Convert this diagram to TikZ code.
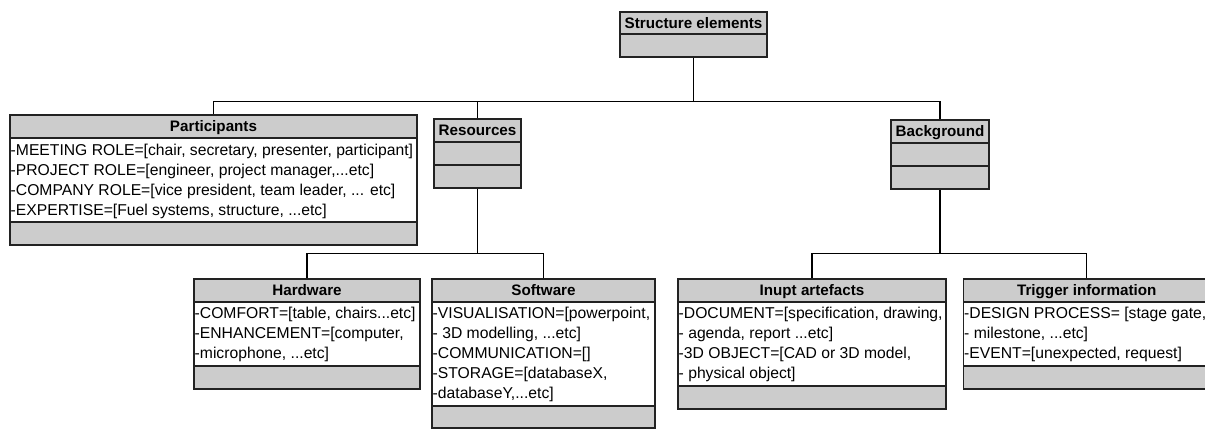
\documentclass[tikz,border=0pt]{standalone}
\usepackage{fontspec}
\setmainfont{Liberation Sans}
\usetikzlibrary{fit}
\definecolor{boxgray}{HTML}{CCCCCC}
\definecolor{edgecol}{HTML}{222222}
\tikzset{
  txt/.style={font=\fontsize{15.7}{20}\selectfont, inner sep=0pt, anchor=base west},
  ttl/.style={font=\fontsize{15.2}{18}\selectfont\bfseries, inner sep=0pt, anchor=base},
  frame/.style={draw=edgecol, line width=1.3pt, inner sep=0pt},
  sepline/.style={draw=edgecol, line width=1.2pt},
  conn/.style={draw=black, line width=1.2pt},
}
% \umlbox{name}{left}{right}{top}{hdiv}{tdiv}{bottom}{title}{middle colour}
\newcommand\umlbox[9]{%
  \fill[boxgray] (#2,#4) rectangle (#3,#5);
  \fill[#9] (#2,#5) rectangle (#3,#6);
  \fill[boxgray] (#2,#6) rectangle (#3,#7);
  \draw[sepline] (#2,#5) -- (#3,#5);
  \draw[sepline] (#2,#6) -- (#3,#6);
  \node[frame, fit={(#2,#4)(#3,#7)}] (#1) {};
  \node[ttl] (#1-t) at ({(#2+#3)/2},{#4+16.7}) {#8};
}
\newcommand\umltext[4]{\node[txt] (#1) at (#2,#3) {#4};}
\begin{document}
\begin{tikzpicture}[x=1pt,y=-1pt]
\useasboundingbox (0,0) rectangle (1205,429);
\clip (0,0) rectangle (1205,429);
\fill[white] (0,0) rectangle (1205,429);

% top level
\umlbox{se}{620}{767}{12}{34}{34}{57}{Structure elements}{boxgray}

% second level
\umlbox{part}{10}{417}{115}{138}{222}{245}{Participants}{white}
\umltext{p1}{10.5}{155.5}{-MEETING ROLE=[chair, secretary, presenter, participant]}
\umltext{p2}{10.5}{175.5}{-PROJECT ROLE=[engineer, project manager,...etc]}
\umltext{p3}{10.5}{195.5}{-COMPANY ROLE=[vice president, team leader, ... etc]}
\umltext{p4}{10.5}{215.5}{-EXPERTISE=[Fuel systems, structure, ...etc]}

\umlbox{res}{434}{521}{119}{142}{165}{188}{Resources}{boxgray}
\umlbox{bg}{891}{989}{120}{143}{166}{189}{Background}{boxgray}

% third level
\umlbox{hw}{194}{420}{279}{302}{366}{389}{Hardware}{white}
\umltext{h1}{194.5}{318.5}{-COMFORT=[table, chairs...etc]}
\umltext{h2}{194.5}{338.5}{-ENHANCEMENT=[computer,}
\umltext{h3}{194.5}{358.5}{-microphone, ...etc]}

\umlbox{sw}{432}{655}{279}{302}{406}{428}{Software}{white}
\umltext{s1}{432.5}{318.5}{-VISUALISATION=[powerpoint,}
\umltext{s2}{432.5}{338.5}{- 3D modelling, ...etc]}
\umltext{s3}{432.5}{358.5}{-COMMUNICATION=[]}
\umltext{s4}{432.5}{378.5}{-STORAGE=[databaseX,}
\umltext{s5}{432.5}{398.5}{-databaseY,...etc]}

\umlbox{ia}{678}{946}{279}{302}{386}{409}{Inupt artefacts}{white}
\umltext{i1}{678.5}{318.5}{-DOCUMENT=[specification, drawing,}
\umltext{i2}{678.5}{338.5}{- agenda, report ...etc]}
\umltext{i3}{678.5}{358.5}{-3D OBJECT=[CAD or 3D model,}
\umltext{i4}{678.5}{378.5}{- physical object]}

\umlbox{ti}{963.5}{1210}{279}{302}{366}{389}{Trigger information}{white}
\umltext{t1}{964}{318.5}{-DESIGN PROCESS= [stage gate,}
\umltext{t2}{964}{338.5}{- milestone, ...etc]}
\umltext{t3}{964}{358.5}{-EVENT=[unexpected, request]}

% connectors
\draw[conn] (se.south) -- ++(0,44) coordinate (j1);
\draw[conn] (part.north) |- (j1) -| (bg.north);
\draw[conn] (j1 -| res.north) -- (res.north);
\draw[conn] (res.south) -- ++(0,65) coordinate (j2);
\draw[conn] (hw.north) |- (j2) -| (sw.north);
\draw[conn] (bg.south) -- ++(0,64) coordinate (j3);
\draw[conn] (ia.north) |- (j3) -| (ti.north);
\end{tikzpicture}
\end{document}
